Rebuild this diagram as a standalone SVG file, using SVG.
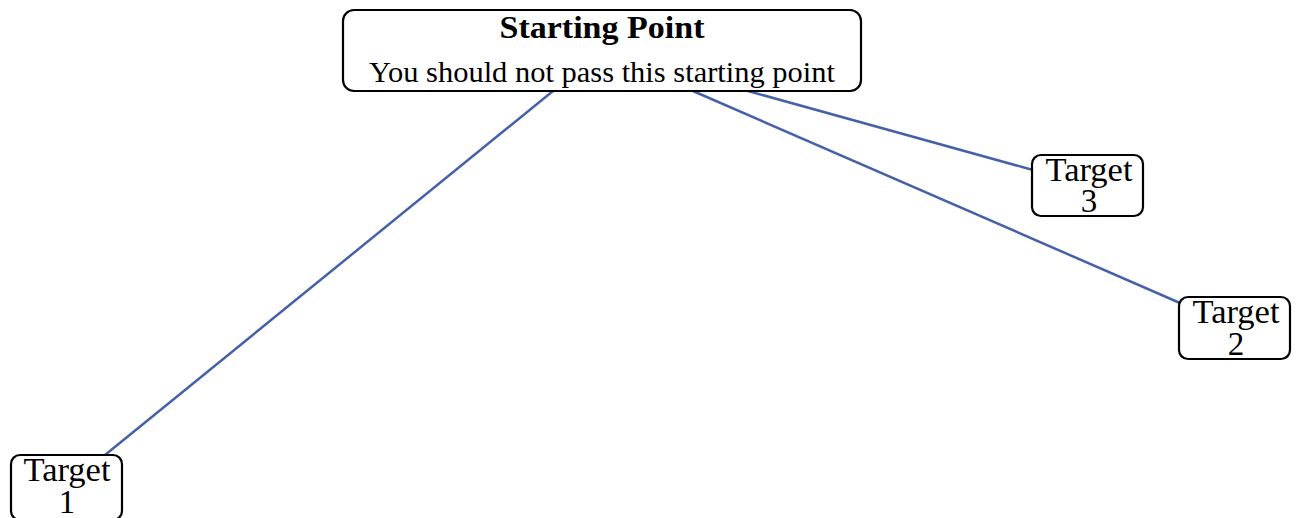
<svg xmlns="http://www.w3.org/2000/svg" width="1299" height="518" viewBox="0 0 1299 518">
<style>
.box{fill:#fff;stroke:#000;stroke-width:2.2}
.t{font-family:"Liberation Serif","DejaVu Serif",serif;fill:#000;text-anchor:middle}
.tg{font-size:33px}
.edge{stroke:#4661a8;stroke-width:2.5;fill:none}
</style>
<rect width="1299" height="518" fill="#fff"/>
<g id="connectors">
<line class="edge" x1="553" y1="91" x2="105" y2="455"/>
<line class="edge" x1="693" y1="91" x2="1180" y2="303"/>
<line class="edge" x1="748" y1="91" x2="1033" y2="170"/>
</g>
<g id="start">
<rect class="box" x="343" y="10" width="518" height="81" rx="11"/>
<text class="t" x="602" y="38" font-size="32" font-weight="bold" textLength="205" lengthAdjust="spacingAndGlyphs">Starting Point</text>
<text class="t" x="602" y="82" font-size="30" textLength="466" lengthAdjust="spacingAndGlyphs">You should not pass this starting point</text>
</g>
<g id="target3">
<rect class="box" x="1032" y="155" width="111" height="61" rx="9"/>
<text class="t tg" x="1089" y="181" textLength="87" lengthAdjust="spacingAndGlyphs">Target</text>
<text class="t tg" x="1089" y="212">3</text>
</g>
<g id="target2">
<rect class="box" x="1179" y="297" width="111" height="62" rx="9"/>
<text class="t tg" x="1236" y="323" textLength="87" lengthAdjust="spacingAndGlyphs">Target</text>
<text class="t tg" x="1236" y="355">2</text>
</g>
<g id="target1">
<rect class="box" x="11" y="455" width="111" height="65" rx="9"/>
<text class="t tg" x="67" y="481" textLength="87" lengthAdjust="spacingAndGlyphs">Target</text>
<text class="t tg" x="67" y="513">1</text>
</g>
</svg>
